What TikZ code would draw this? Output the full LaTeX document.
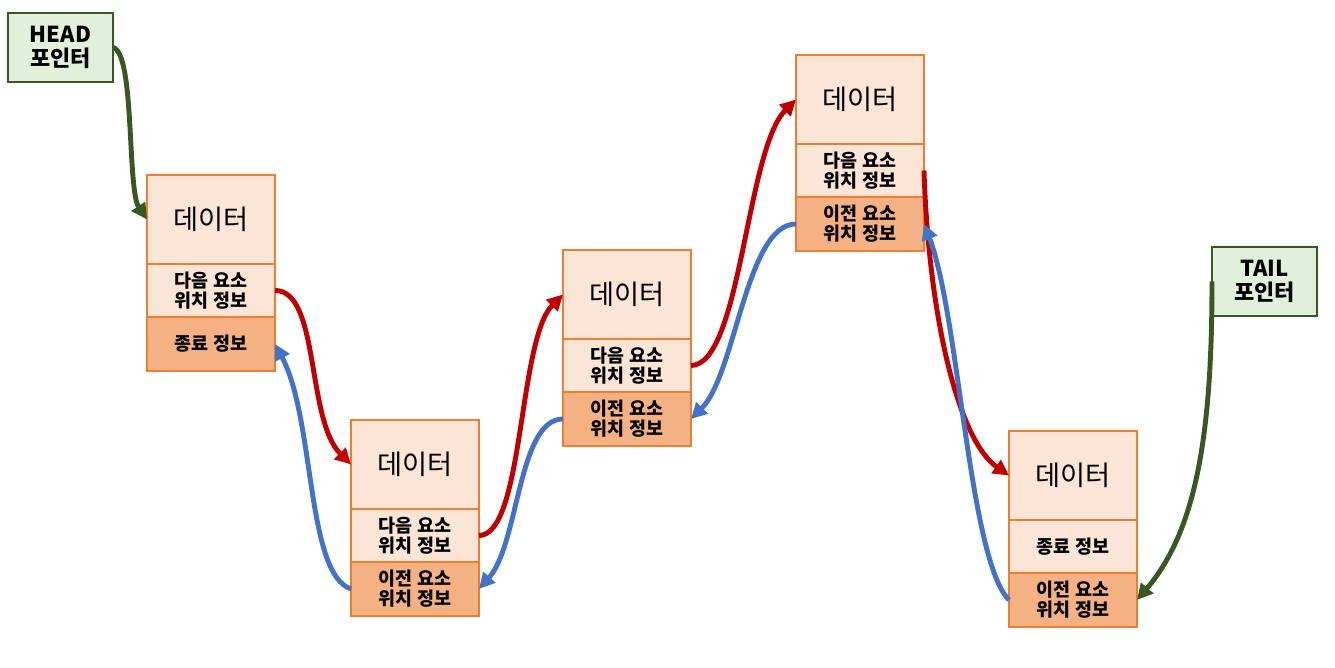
\documentclass[tikz,border=0pt]{standalone}
\usepackage{fontspec}
\setmainfont{Noto Sans CJK KR}
\usetikzlibrary{arrows.meta,positioning}

\definecolor{cellline}{HTML}{ED7D31}
\definecolor{celllight}{HTML}{FBE5D6}
\definecolor{celldark}{HTML}{F4B183}
\definecolor{ptrline}{HTML}{385723}
\definecolor{ptrfill}{HTML}{E2EFDA}
\definecolor{nextred}{HTML}{C00000}
\definecolor{prevblue}{HTML}{4472C4}

\tikzset{
  cell/.style={draw=cellline, line width=1.2pt, minimum width=2.56cm, inner sep=0pt, outer sep=0pt, align=center},
  datacell/.style={cell, fill=celllight, minimum height=1.78cm, font=\fontsize{15.5}{18}\selectfont},
  infocell/.style={cell, fill=celllight, minimum height=1.06cm, font=\bfseries\fontsize{10.5}{11.5}\selectfont},
  prevcell/.style={infocell, fill=celldark, minimum height=1.08cm},
  ptrbox/.style={draw=ptrline, fill=ptrfill, line width=1.2pt, minimum width=2.1cm, minimum height=1.38cm, inner sep=0pt, outer sep=0pt, align=center, font=\bfseries\fontsize{12.5}{14}\selectfont},
  nextlink/.style={->, draw=nextred, line width=2.8pt},
  prevlink/.style={->, draw=prevblue, line width=2.8pt},
  ptrlink/.style={->, draw=ptrline, line width=2.8pt}
}

\begin{document}
\begin{tikzpicture}[>={Triangle[length=9pt,width=9pt]}, x=0.02cm, y=0.02cm]
  \useasboundingbox (0,0) rectangle (1335,667);

  % pointers
  \node[ptrbox, anchor=north west] (head) at (8,654) {HEAD\\포인터};
  \node[ptrbox, anchor=north west] (tail) at (1212,420) {TAIL\\포인터};

  % first node
  \node[datacell, anchor=north west] (d1) at (147,492) {데이터};
  \node[infocell] (n1) [below=0pt of d1] {다음 요소\\위치 정보};
  \node[prevcell] (e1) [below=0pt of n1] {종료 정보};

  % second node
  \node[datacell, anchor=north west] (d2) at (351,247) {데이터};
  \node[infocell] (n2) [below=0pt of d2] {다음 요소\\위치 정보};
  \node[prevcell] (p2) [below=0pt of n2] {이전 요소\\위치 정보};

  % third node
  \node[datacell, anchor=north west] (d3) at (563,417) {데이터};
  \node[infocell] (n3) [below=0pt of d3] {다음 요소\\위치 정보};
  \node[prevcell] (p3) [below=0pt of n3] {이전 요소\\위치 정보};

  % fourth node
  \node[datacell, anchor=north west] (d4) at (796,612) {데이터};
  \node[infocell] (n4) [below=0pt of d4] {다음 요소\\위치 정보};
  \node[prevcell] (p4) [below=0pt of n4] {이전 요소\\위치 정보};

  % last node
  \node[datacell, anchor=north west] (d5) at (1009,236) {데이터};
  \node[infocell] (e5) [below=0pt of d5] {종료 정보};
  \node[prevcell] (p5) [below=0pt of e5] {이전 요소\\위치 정보};

  % pointer links
  \draw[ptrlink] (head.east) .. controls +(22,-5) and +(-20,30) .. (d1.west);
  \draw[ptrlink] (tail.west) .. controls +(0,-150) and +(60,70) .. (p5.east);

  % next links
  \draw[nextlink] (n1.east) .. controls +(45,0) and +(-45,45) .. (d2.west);
  \draw[nextlink] (n2.east) .. controls +(45,0) and +(-45,-45) .. (d3.west);
  \draw[nextlink] (n3.east) .. controls +(50,0) and +(-50,-50) .. (d4.west);
  \draw[nextlink] (n4.east) .. controls +(5,-150) and +(-50,35) .. (d5.west);

  % previous links
  \draw[prevlink] (p2.west) .. controls +(-45,15) and +(40,-75) .. (e1.east);
  \draw[prevlink] (p3.west) .. controls +(-45,0) and +(40,45) .. (p2.east);
  \draw[prevlink] (p4.west) .. controls +(-50,0) and +(45,45) .. (p3.east);
  \draw[prevlink] (p5.west) .. controls +(-40,40) and +(35,-90) .. (p4.east);
\end{tikzpicture}
\end{document}
